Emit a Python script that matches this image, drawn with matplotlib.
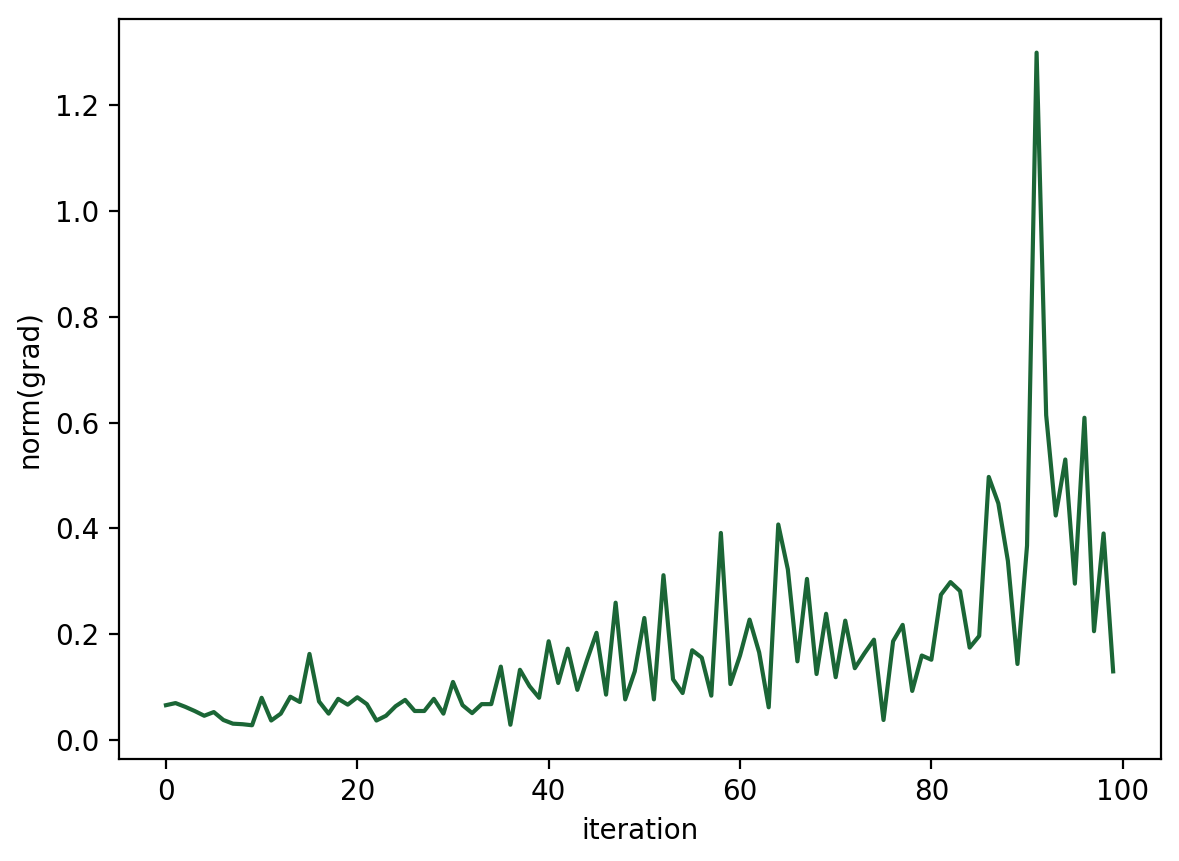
import matplotlib
matplotlib.use("Agg")
import matplotlib.pyplot as plt
import numpy as np

# gradient norm per iteration
iteration = np.arange(100)
grad_norm = [
    0.065, 0.069, 0.062, 0.054, 0.045, 0.052, 0.037, 0.030, 0.029, 0.027,
    0.079, 0.036, 0.049, 0.081, 0.071, 0.162, 0.072, 0.049, 0.077, 0.066,
    0.080, 0.067, 0.036, 0.045, 0.063, 0.075, 0.054, 0.054, 0.077, 0.049,
    0.109, 0.065, 0.050, 0.067, 0.067, 0.138, 0.028, 0.132, 0.101, 0.079,
    0.186, 0.107, 0.172, 0.094, 0.150, 0.202, 0.085, 0.259, 0.076, 0.129,
    0.230, 0.076, 0.311, 0.114, 0.088, 0.169, 0.155, 0.083, 0.391, 0.105,
    0.159, 0.227, 0.165, 0.061, 0.407, 0.322, 0.148, 0.304, 0.124, 0.238,
    0.118, 0.225, 0.135, 0.163, 0.189, 0.037, 0.186, 0.217, 0.092, 0.159,
    0.151, 0.274, 0.298, 0.281, 0.174, 0.196, 0.497, 0.447, 0.338, 0.143,
    0.367, 1.300, 0.614, 0.424, 0.530, 0.295, 0.609, 0.205, 0.390, 0.129,
]

fig = plt.figure(figsize=(5.895, 4.305), dpi=200)
ax = fig.add_axes([118.6 / 1179, 1 - 758.9 / 861,
                   (1160.5 - 118.6) / 1179, (758.9 - 19) / 861])

ax.plot(iteration, grad_norm, color="#1b6636", linewidth=1.5)
ax.set_xlabel("iteration")
ax.set_ylabel("norm(grad)")

fig.savefig("out.png", dpi=200)
